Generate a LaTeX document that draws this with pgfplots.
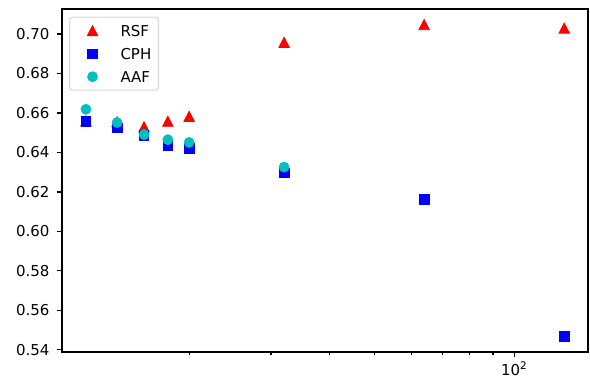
\documentclass[border=0pt]{standalone}
\usepackage{fontspec}
\setmainfont{DejaVu Sans}
\usepackage{pgfplots}
\pgfplotsset{compat=1.18}
\definecolor{mcyan}{rgb}{0,0.75,0.75}
\definecolor{legedge}{rgb}{0.84,0.84,0.84}
\begin{document}
\begin{tikzpicture}
\begin{axis}[
  at={(0,0)}, anchor=south west,
  scale only axis,
  width=378.72pt, height=246.96pt,
  xmode=log, log basis x=10,
  xmin=10.66, xmax=144,
  ymin=0.5389, ymax=0.7127,
  axis line style={line width=0.86pt, black},
  tick align=outside,
  tick style={line width=0.86pt, black},
  major tick length=3.8pt,
  minor tick length=2.2pt,
  xtick={100},
  xticklabels={10\textsuperscript{2}},
  minor xtick={20,30,40,50,60,70,80,90},
  ytick={0.54,0.56,0.58,0.60,0.62,0.64,0.66,0.68,0.70},
  yticklabel style={/pgf/number format/fixed, /pgf/number format/fixed zerofill, /pgf/number format/precision=2, /pgf/number format/assume math mode=true},
  yticklabel style={font=\fontsize{10.8}{13}\selectfont, anchor=east, inner sep=0pt, xshift=-5pt},
  xticklabel style={font=\fontsize{10.8}{13}\selectfont, anchor=north, inner sep=0pt, yshift=-3pt},
  xtick pos=bottom, ytick pos=left,
  legend style={
    at={(0,1)}, anchor=north west, xshift=5.04pt, yshift=-5.54pt,
    draw=legedge, fill=white, line width=0.75pt, rounded corners=2pt,
    inner xsep=5.04pt, inner ysep=1.44pt,
    row sep=0pt, column sep=0pt,
    font=\fontsize{10.8}{13}\selectfont,
    nodes={inner sep=0pt, text depth=0pt},
    cells={anchor=west},
  },
  legend image code/.code={%
    \path[draw=none, fill=none] (-11.52pt,-8.28pt) rectangle (20.16pt,8.28pt);
    \draw[#1] plot coordinates {(0pt,0pt)};
  },
]
\addplot[only marks, mark=triangle*, mark size=4.4pt,
  mark options={draw=red, fill=red, line width=0.5pt, yshift=-1.2pt, yscale=1.12}]
  coordinates {(12,0.6560) (14,0.6556) (16,0.6530) (18,0.6558) (20,0.6583) (32,0.6958) (64,0.7048) (128,0.7030)};
\addlegendentry{RSF}
\addplot[only marks, mark=square*, mark size=3.45pt,
  mark options={draw=blue, fill=blue, line width=0.5pt}]
  coordinates {(12,0.6559) (14,0.6525) (16,0.6486) (18,0.6435) (20,0.6421) (32,0.6296) (64,0.6164) (128,0.5468)};
\addlegendentry{CPH}
\addplot[only marks, mark=*, mark size=3.6pt,
  mark options={draw=mcyan, fill=mcyan, line width=0.5pt}]
  coordinates {(12,0.6619) (14,0.6552) (16,0.6491) (18,0.6465) (20,0.6451) (32,0.6326)};
\addlegendentry{AAF}
\end{axis}
\pgfresetboundingbox
\path[use as bounding box] (-44.64pt,-20.88pt) rectangle (380.16pt,253.44pt);
\end{tikzpicture}
\end{document}
